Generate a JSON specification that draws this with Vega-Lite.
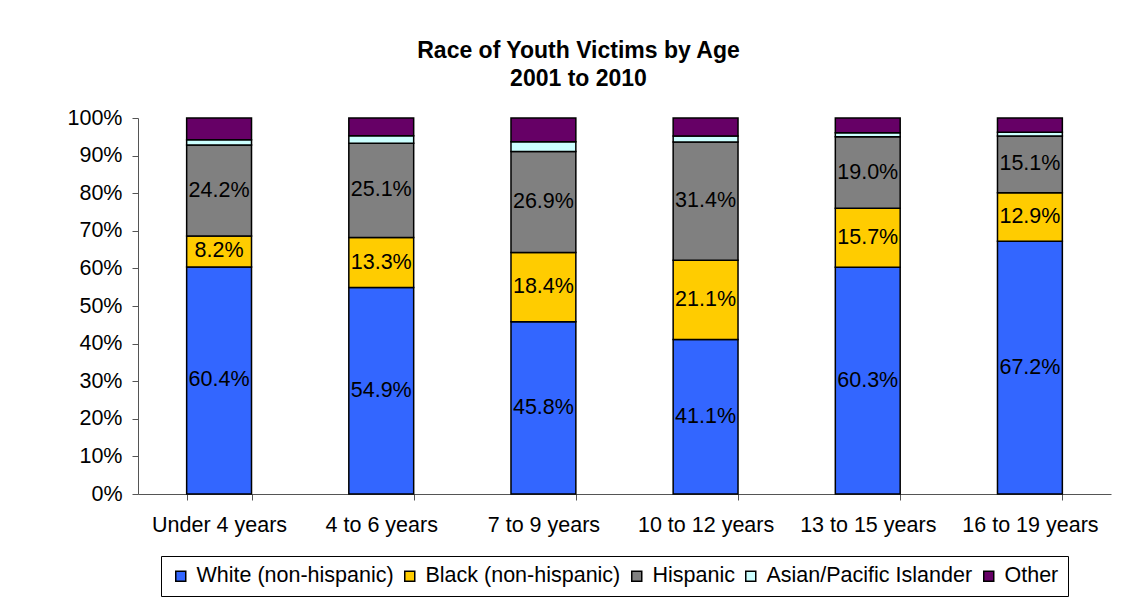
{
  "$schema": "https://vega.github.io/schema/vega-lite/v6.json",
  "width": 973,
  "height": 376,
  "autosize": {"type": "none"},
  "padding": {"left": 138, "top": 118, "right": 24, "bottom": 113},
  "background": "white",
  "title": {
    "text": ["Race of Youth Victims by Age", "2001 to 2010"],
    "font": "Liberation Sans",
    "fontSize": 23,
    "fontWeight": "bold",
    "color": "black",
    "anchor": "middle",
    "lineHeight": 28,
    "offset": 16,
    "dx": -46
  },
  "config": {
    "view": {"stroke": null},
    "font": "Liberation Sans"
  },
  "data": {
    "values": [
      {"age": "Under 4 years", "race": "White (non-hispanic)", "k": 1, "v": 0.604},
      {"age": "Under 4 years", "race": "Black (non-hispanic)", "k": 2, "v": 0.082},
      {"age": "Under 4 years", "race": "Hispanic", "k": 3, "v": 0.242},
      {"age": "Under 4 years", "race": "Asian/Pacific Islander", "k": 4, "v": 0.014},
      {"age": "Under 4 years", "race": "Other", "k": 5, "v": 0.058},
      {"age": "4 to 6 years", "race": "White (non-hispanic)", "k": 1, "v": 0.549},
      {"age": "4 to 6 years", "race": "Black (non-hispanic)", "k": 2, "v": 0.133},
      {"age": "4 to 6 years", "race": "Hispanic", "k": 3, "v": 0.251},
      {"age": "4 to 6 years", "race": "Asian/Pacific Islander", "k": 4, "v": 0.020},
      {"age": "4 to 6 years", "race": "Other", "k": 5, "v": 0.047},
      {"age": "7 to 9 years", "race": "White (non-hispanic)", "k": 1, "v": 0.458},
      {"age": "7 to 9 years", "race": "Black (non-hispanic)", "k": 2, "v": 0.184},
      {"age": "7 to 9 years", "race": "Hispanic", "k": 3, "v": 0.269},
      {"age": "7 to 9 years", "race": "Asian/Pacific Islander", "k": 4, "v": 0.026},
      {"age": "7 to 9 years", "race": "Other", "k": 5, "v": 0.063},
      {"age": "10 to 12 years", "race": "White (non-hispanic)", "k": 1, "v": 0.411},
      {"age": "10 to 12 years", "race": "Black (non-hispanic)", "k": 2, "v": 0.211},
      {"age": "10 to 12 years", "race": "Hispanic", "k": 3, "v": 0.314},
      {"age": "10 to 12 years", "race": "Asian/Pacific Islander", "k": 4, "v": 0.016},
      {"age": "10 to 12 years", "race": "Other", "k": 5, "v": 0.048},
      {"age": "13 to 15 years", "race": "White (non-hispanic)", "k": 1, "v": 0.603},
      {"age": "13 to 15 years", "race": "Black (non-hispanic)", "k": 2, "v": 0.157},
      {"age": "13 to 15 years", "race": "Hispanic", "k": 3, "v": 0.190},
      {"age": "13 to 15 years", "race": "Asian/Pacific Islander", "k": 4, "v": 0.011},
      {"age": "13 to 15 years", "race": "Other", "k": 5, "v": 0.039},
      {"age": "16 to 19 years", "race": "White (non-hispanic)", "k": 1, "v": 0.672},
      {"age": "16 to 19 years", "race": "Black (non-hispanic)", "k": 2, "v": 0.129},
      {"age": "16 to 19 years", "race": "Hispanic", "k": 3, "v": 0.151},
      {"age": "16 to 19 years", "race": "Asian/Pacific Islander", "k": 4, "v": 0.010},
      {"age": "16 to 19 years", "race": "Other", "k": 5, "v": 0.038}
    ]
  },
  "encoding": {
    "x": {
      "field": "age",
      "type": "nominal",
      "sort": null,
      "scale": {"paddingInner": 0.6, "paddingOuter": 0.3},
      "axis": {
        "title": null,
        "labelAngle": 0,
        "labelFont": "Liberation Sans",
        "labelFontSize": 21.5,
        "labelColor": "black",
        "labelPadding": 14,
        "tickBand": "extent",
        "tickSize": 6,
        "tickColor": "#555555",
        "domainColor": "#555555",
        "grid": false
      }
    },
    "y": {
      "field": "v",
      "type": "quantitative",
      "stack": "zero",
      "scale": {"domain": [0, 1], "nice": false},
      "axis": {
        "title": null,
        "format": ".0%",
        "values": [0, 0.1, 0.2, 0.3, 0.4, 0.5, 0.6, 0.7, 0.8, 0.9, 1],
        "labelFont": "Liberation Sans",
        "labelFontSize": 21.5,
        "labelColor": "black",
        "labelPadding": 10,
        "tickSize": 6,
        "tickColor": "#555555",
        "domainColor": "#555555",
        "grid": false
      }
    },
    "order": {"field": "k", "type": "quantitative", "sort": "ascending"}
  },
  "layer": [
    {
      "mark": {"type": "bar", "stroke": "black", "strokeWidth": 1.5},
      "encoding": {
        "color": {
          "field": "race",
          "type": "nominal",
          "sort": ["White (non-hispanic)", "Black (non-hispanic)", "Hispanic", "Asian/Pacific Islander", "Other"],
          "scale": {
            "domain": ["White (non-hispanic)", "Black (non-hispanic)", "Hispanic", "Asian/Pacific Islander", "Other"],
            "range": ["#3366FF", "#FFCC00", "#808080", "#CCFFFF", "#660066"]
          },
          "legend": {
            "title": null,
            "orient": "none",
            "legendX": 23,
            "legendY": 438,
            "direction": "horizontal",
            "padding": 9,
            "strokeColor": "black",
            "labelFont": "Liberation Sans",
            "labelFontSize": 21.5,
            "labelColor": "black",
            "symbolType": "square",
            "symbolSize": 100,
            "symbolStrokeColor": "black",
            "symbolStrokeWidth": 1.5,
            "symbolOpacity": 1,
            "columnPadding": 5,
            "labelOffset": 5,
            "labelLimit": 400
          }
        }
      }
    },
    {
      "transform": [{"filter": "datum.k <= 3"}],
      "mark": {"type": "text", "font": "Liberation Sans", "fontSize": 21.5, "color": "black", "align": "center", "baseline": "middle"},
      "encoding": {
        "y": {"field": "v", "type": "quantitative", "stack": "zero", "bandPosition": 0.5},
        "detail": {"field": "race"},
        "text": {"field": "v", "type": "quantitative", "format": ".1%"}
      }
    }
  ]
}
